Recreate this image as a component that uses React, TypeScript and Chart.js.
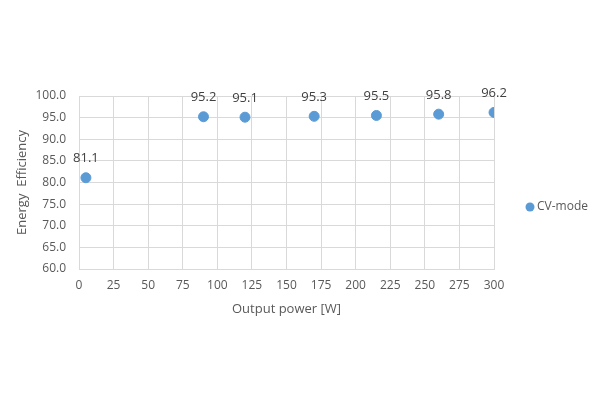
import React, { useEffect, useRef } from "react";
import { Chart, registerables } from "chart.js";

Chart.register(...registerables);

const seriesName = "CV-mode";
const outputPower = [5, 90, 120, 170, 215, 260, 300];
const efficiency = [81.1, 95.2, 95.1, 95.3, 95.5, 95.8, 96.2];
const xTitle = "Output power [W]";
const yTitle = "Energy  Efficiency";

const FONT = "'Open Sans', 'Liberation Sans', sans-serif";
const POINT_COLOR = "#5b9bd5";
const TEXT_COLOR = "#595959";

const labelPlugin = {
  id: "pointLabels",
  afterDatasetsDraw(chart: any) {
    const ctx = chart.ctx;
    const meta = chart.getDatasetMeta(0);
    ctx.save();
    ctx.font = `13px ${FONT}`;
    ctx.fillStyle = "#404040";
    ctx.textAlign = "center";
    ctx.textBaseline = "middle";
    meta.data.forEach((el: any, i: number) => {
      ctx.fillText(efficiency[i].toFixed(1), el.x, el.y - 19);
    });
    ctx.restore();
  },
};

const legendPlugin = {
  id: "customLegend",
  afterDraw(chart: any) {
    const ctx = chart.ctx;
    const x = chart.chartArea.right + 36;
    const y = chart.height / 2 + 7;
    ctx.save();
    ctx.fillStyle = POINT_COLOR;
    ctx.beginPath();
    ctx.arc(x, y, 4.5, 0, Math.PI * 2);
    ctx.fill();
    ctx.font = `12px ${FONT}`;
    ctx.fillStyle = TEXT_COLOR;
    ctx.textAlign = "left";
    ctx.textBaseline = "middle";
    ctx.fillText(seriesName, x + 7, y);
    ctx.restore();
  },
};

export default function App() {
  const ref = useRef<HTMLCanvasElement>(null);
  useEffect(() => {
    document.body.style.margin = "0";
    const chart = new Chart(ref.current!, {
      type: "scatter",
      data: {
        datasets: [
          {
            label: seriesName,
            data: outputPower.map((x, i) => ({ x, y: efficiency[i] })),
            backgroundColor: POINT_COLOR,
            borderColor: POINT_COLOR,
            pointRadius: 5,
            pointHoverRadius: 5,
          },
        ],
      },
      options: {
        animation: false,
        responsive: false,
        layout: { padding: { left: 10, top: 96, right: 106, bottom: 79 } },
        plugins: {
          legend: { display: false },
          tooltip: { enabled: false },
        },
        scales: {
          x: {
            type: "linear",
            min: 0,
            max: 300,
            ticks: { stepSize: 25, color: TEXT_COLOR, font: { family: FONT, size: 12 }, padding: 9 },
            grid: { color: "#d9d9d9", drawTicks: false },
            border: { color: "#d9d9d9" },
            title: { display: true, text: xTitle, color: TEXT_COLOR, font: { family: FONT, size: 13 }, padding: { top: 0 } },
          },
          y: {
            min: 60,
            max: 100,
            afterFit: (s: any) => {
              s.width = 69;
            },
            ticks: {
              stepSize: 5,
              color: TEXT_COLOR,
              font: { family: FONT, size: 12 },
              padding: 13,
              callback: (v: any) => Number(v).toFixed(1),
            },
            grid: { color: "#d9d9d9", drawTicks: false },
            border: { color: "#d9d9d9" },
            title: { display: true, text: yTitle, color: TEXT_COLOR, font: { family: FONT, size: 13 }, padding: { bottom: 2 } },
          },
        },
      },
      plugins: [labelPlugin, legendPlugin],
    });
    return () => chart.destroy();
  }, []);
  return (
    <div style={{ position: "absolute", left: 0, top: 0, width: 600, height: 400, background: "#fff" }}>
      <canvas ref={ref} width={600} height={400} />
    </div>
  );
}
